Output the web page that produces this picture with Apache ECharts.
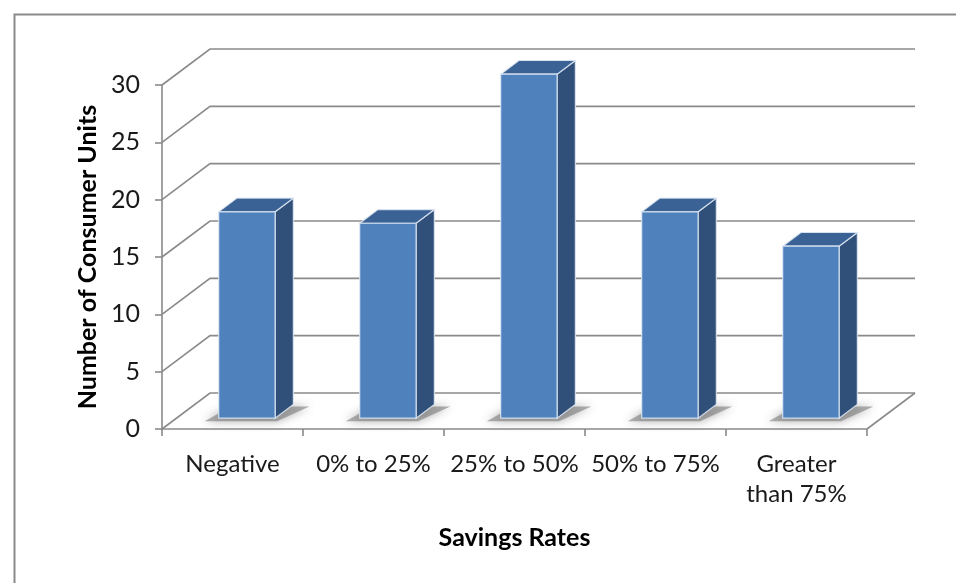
<!DOCTYPE html>
<html>
<head>
<meta charset="utf-8">
<script src="https://cdn.jsdelivr.net/npm/echarts@6/dist/echarts.min.js"></script>
<style>
  html, body { margin: 0; padding: 0; background: #fff; }
  #chart { width: 956px; height: 583px; }
</style>
</head>
<body>
<div id="chart"></div>
<script>
// Savings-rate groups and the number of consumer units in each
const categories = ['Negative', '0% to 25%', '25% to 50%', '50% to 75%', 'Greater\nthan 75%'];
const consumerUnits = [18, 17, 30, 18, 15];
const yTicks = [0, 5, 10, 15, 20, 25, 30];

// Oblique projection used for the 3-D look (pixels from front plane to back wall)
const DEPTH_X = 48;
const DEPTH_Y = -36;
const BAR_FRONT = 0.30;   // depth fraction where the bar front face sits
const BAR_BACK = 0.68;    // depth fraction of the bar back face
const BAR_WIDTH = 0.40;   // share of a category band

const FONT = 'Lato, "Open Sans", sans-serif';
const GRID_COLOR = '#8a8a8a';

const chart = echarts.init(document.getElementById('chart'), null, { renderer: 'canvas' });

// Back wall, side wall and floor lines, one item per value tick
function wallItem(params, api) {
  const cs = params.coordSys;
  const v = api.value(1);
  const y = api.coord([0, v])[1];
  const xl = cs.x, xr = cs.x + cs.width;
  const children = [{
    type: 'polyline',
    shape: { points: [[xl, y], [xl + DEPTH_X, y + DEPTH_Y], [xr + DEPTH_X, y + DEPTH_Y]] },
    style: { stroke: GRID_COLOR, lineWidth: 1.6, fill: null }
  }];
  if (v === 0) {
    children.push({
      type: 'line',
      shape: { x1: xr, y1: y, x2: xr + DEPTH_X, y2: y + DEPTH_Y },
      style: { stroke: GRID_COLOR, lineWidth: 1.6 }
    });
  }
  return { type: 'group', children: children };
}

// A 3-D column: floor shadow, front face, right side and top
function barItem(params, api) {
  const i = api.value(0);
  const v = api.value(1);
  const base = api.coord([i, 0]);
  const top = api.coord([i, v]);
  const band = api.size([1, 0])[0];
  const w = band * BAR_WIDTH;
  const cx = base[0] + BAR_FRONT * DEPTH_X;
  const x0 = cx - w / 2, x1 = cx + w / 2;
  const yb = base[1] + BAR_FRONT * DEPTH_Y;
  const yt = top[1] + BAR_FRONT * DEPTH_Y;
  const dx = (BAR_BACK - BAR_FRONT) * DEPTH_X;
  const dy = (BAR_BACK - BAR_FRONT) * DEPTH_Y;
  const edge = 'rgba(225,234,246,0.85)';
  return {
    type: 'group',
    children: [
      {
        type: 'polygon',
        shape: { points: [[x0 - 14, yb + 3], [x1 + 2, yb + 3], [x1 + dx + 16, yb + dy + 2], [x0 + dx - 6, yb + dy + 2]] },
        style: { fill: 'rgba(115,115,115,0.55)', shadowBlur: 10, shadowColor: 'rgba(70,70,70,0.8)' }
      },
      {
        type: 'polygon',
        shape: { points: [[x1, yb], [x1 + dx, yb + dy], [x1 + dx, yt + dy], [x1, yt]] },
        style: { fill: '#30507a', stroke: edge, lineWidth: 1.2 }
      },
      {
        type: 'polygon',
        shape: { points: [[x0, yt], [x1, yt], [x1 + dx, yt + dy], [x0 + dx, yt + dy]] },
        style: { fill: '#3b6294', stroke: edge, lineWidth: 1.2 }
      },
      {
        type: 'rect',
        shape: { x: x0, y: yt, width: w, height: yb - yt },
        style: { fill: '#4f81bd', stroke: edge, lineWidth: 1.2 }
      }
    ]
  };
}

const option = {
  backgroundColor: '#ffffff',
  animation: false,
  graphic: [{
    type: 'rect',
    left: 12, top: 12,
    shape: { width: 1000, height: 1000 },
    style: { fill: null, stroke: '#8a8a8a', lineWidth: 2 },
    silent: true
  }],
  grid: { left: 162, right: 89, top: 85, bottom: 154 },
  xAxis: {
    type: 'category',
    data: categories,
    boundaryGap: true,
    axisLine: { lineStyle: { color: GRID_COLOR, width: 1.6 } },
    axisTick: { show: true, length: 7, interval: 0, lineStyle: { color: GRID_COLOR, width: 1.6 } },
    axisLabel: { interval: 0, margin: 20, color: '#1a1a1a', fontFamily: FONT, fontSize: 24, lineHeight: 30 },
    name: 'Savings Rates',
    nameLocation: 'middle',
    nameGap: 96,
    nameTextStyle: { color: '#000', fontFamily: FONT, fontSize: 25, fontWeight: 'bold' }
  },
  yAxis: {
    type: 'value',
    min: 0, max: 30, interval: 5,
    axisLine: { show: true, lineStyle: { color: GRID_COLOR, width: 1.6 } },
    axisTick: { show: true, length: 7, lineStyle: { color: GRID_COLOR, width: 1.6 } },
    axisLabel: { margin: 22, color: '#1a1a1a', fontFamily: FONT, fontSize: 25 },
    splitLine: { show: false },
    name: 'Number of Consumer Units',
    nameLocation: 'middle',
    nameRotate: 90,
    nameGap: 62,
    nameTextStyle: { color: '#000', fontFamily: FONT, fontSize: 25, fontWeight: 'bold' }
  },
  series: [
    {
      type: 'custom',
      renderItem: wallItem,
      data: yTicks.map(v => [0, v]),
      z: 1,
      silent: true
    },
    {
      type: 'custom',
      renderItem: barItem,
      data: consumerUnits.map((v, i) => [i, v]),
      z: 2
    }
  ]
};

chart.setOption(option);
</script>
</body>
</html>
